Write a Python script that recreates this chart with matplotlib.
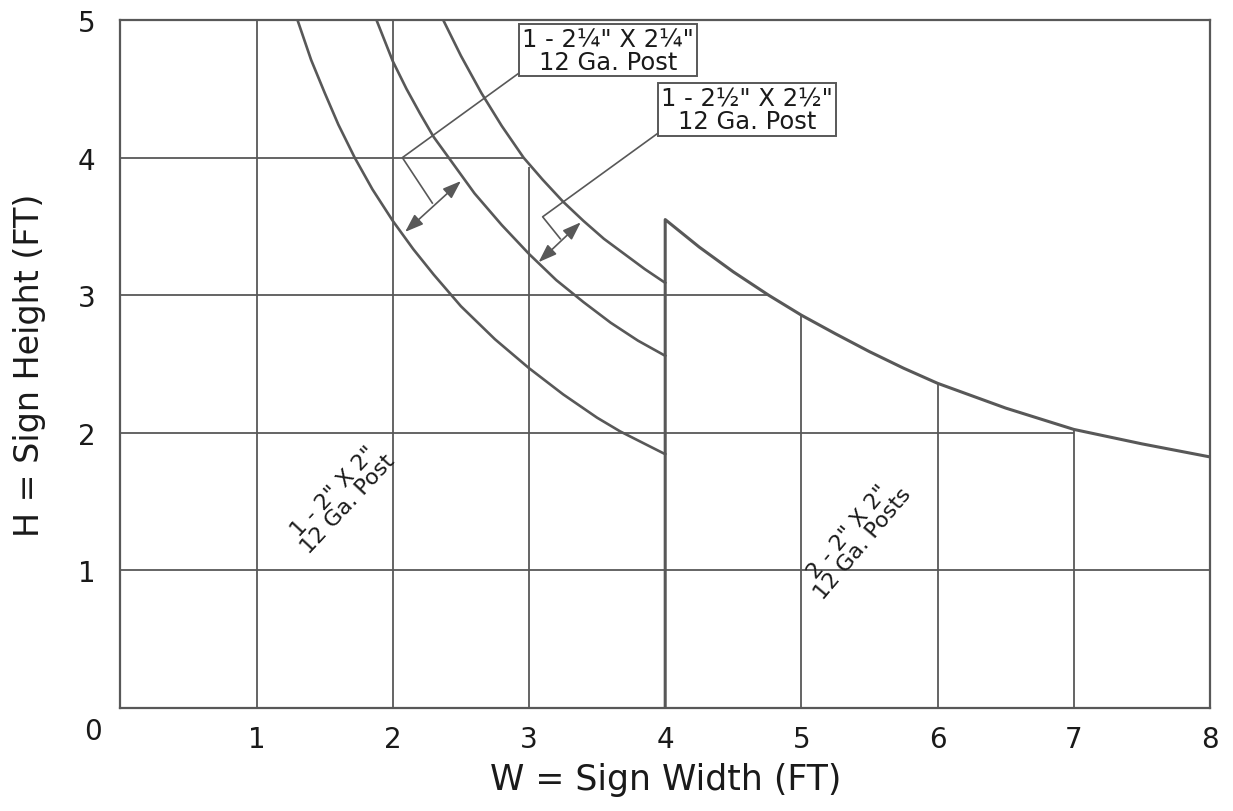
import matplotlib.pyplot as plt

# Sign width (W) / height (H) limits
# 1 - 2" X 2" 12 Ga. post
w_2in = [1.30, 1.40, 1.50, 1.60, 1.72, 1.85, 2.00, 2.15, 2.30, 2.50, 2.75, 3.00, 3.25, 3.50, 3.67, 3.83, 4.00]
h_2in = [5.00, 4.71, 4.47, 4.24, 4.00, 3.77, 3.54, 3.335, 3.15, 2.92, 2.68, 2.47, 2.28, 2.11, 2.01, 1.93, 1.845]

# 1 - 2 1/4" X 2 1/4" 12 Ga. post
w_225in = [1.88, 2.00, 2.10, 2.20, 2.30, 2.41, 2.60, 2.80, 3.00, 3.20, 3.40, 3.60, 3.80, 4.00]
h_225in = [5.00, 4.70, 4.50, 4.32, 4.15, 4.00, 3.74, 3.51, 3.30, 3.11, 2.95, 2.80, 2.67, 2.56]

# 1 - 2 1/2" X 2 1/2" 12 Ga. post
w_25in = [2.37, 2.50, 2.65, 2.80, 2.96, 3.10, 3.25, 3.40, 3.55, 3.70, 3.85, 4.00]
h_25in = [5.00, 4.74, 4.47, 4.23, 4.00, 3.84, 3.68, 3.54, 3.41, 3.30, 3.19, 3.09]

# 2 - 2" X 2" 12 Ga. posts
w_2posts = [4.00, 4.00, 4.25, 4.50, 4.76, 5.00, 5.25, 5.50, 5.75, 6.00, 6.50, 7.00, 7.50, 8.00]
h_2posts = [0.00, 3.55, 3.35, 3.17, 3.00, 2.855, 2.72, 2.59, 2.47, 2.36, 2.18, 2.025, 1.92, 1.825]

# grid segments (stop at the envelope curve)
vgrid_x = [1, 2, 3, 5, 6, 7]
vgrid_top = [5, 5, 3.93, 2.855, 2.36, 2.025]
hgrid_y = [1, 2, 3, 4]
hgrid_end = [8, 7.0, 4.76, 2.96]

xticks = [1, 2, 3, 4, 5, 6, 7, 8]
yticks = [1, 2, 3, 4, 5]

gray = '#585858'
ink = '#1a1a1a'

fig = plt.figure(figsize=(12.33, 8.12), dpi=100)
ax = fig.add_axes([0.0977, 0.1268, 0.8836, 0.8473])
ax.set_xlim(0, 8)
ax.set_ylim(0, 5)

for x, top in zip(vgrid_x, vgrid_top):
    ax.plot([x, x], [0, top], color=gray, lw=1.3, solid_capstyle='butt')
for y, end in zip(hgrid_y, hgrid_end):
    ax.plot([0, end], [y, y], color=gray, lw=1.3, solid_capstyle='butt')

for w, h in [(w_2in, h_2in), (w_225in, h_225in), (w_25in, h_25in)]:
    ax.plot(w, h, color=gray, lw=1.9)
ax.plot(w_2posts, h_2posts, color=gray, lw=2.2)

for s in ax.spines.values():
    s.set_color(gray)
    s.set_linewidth(1.6)

ax.set_xticks(xticks)
ax.set_yticks(yticks)
ax.tick_params(axis='both', length=0, labelsize=20, colors=ink)
ax.tick_params(axis='x', pad=12)
ax.tick_params(axis='y', pad=18)
ax.text(-0.2, -0.17, '0', fontsize=20, color=ink, ha='center', va='center')

fig.text(666 / 1233, 1 - 780 / 812, 'W = Sign Width (FT)', fontsize=25,
         color=ink, ha='center', va='center')
fig.text(30 / 1233, 1 - 365 / 812, 'H = Sign Height (FT)', fontsize=24,
         color=ink, ha='center', va='center', rotation=90)

# boxed call-outs with leaders and double arrows
box = dict(boxstyle='square,pad=0.12', fc='white', ec=gray, lw=1.4)
ax.text(3.58, 4.78, '1 - 2¼" X 2¼"\n12 Ga. Post', fontsize=17.5, color=ink,
        ha='center', va='center', linespacing=0.92, bbox=box, zorder=5)
ax.text(4.60, 4.35, '1 - 2½" X 2½"\n12 Ga. Post', fontsize=17.5, color=ink,
        ha='center', va='center', linespacing=0.92, bbox=box, zorder=5)

ax.plot([2.92, 2.07, 2.29], [4.61, 4.00, 3.67], color=gray, lw=1.2)
ax.plot([3.95, 3.10, 3.23], [4.18, 3.57, 3.41], color=gray, lw=1.2)
arrow = dict(arrowstyle='<|-|>,head_length=0.7,head_width=0.25', color=gray,
             lw=1.2, mutation_scale=16, shrinkA=0, shrinkB=0)
ax.annotate('', xy=(2.09, 3.46), xytext=(2.50, 3.83), arrowprops=arrow)
ax.annotate('', xy=(3.07, 3.24), xytext=(3.38, 3.53), arrowprops=arrow)

# rotated region labels
ax.text(1.62, 1.53, '1 - 2" X 2"\n12 Ga. Post', fontsize=16, color=ink,
        ha='center', va='center', rotation=47, linespacing=0.92)
ax.text(5.40, 1.24, '2 - 2" X 2"\n12 Ga. Posts', fontsize=16, color=ink,
        ha='center', va='center', rotation=50, linespacing=0.92)

fig.savefig('out.png', dpi=100)
